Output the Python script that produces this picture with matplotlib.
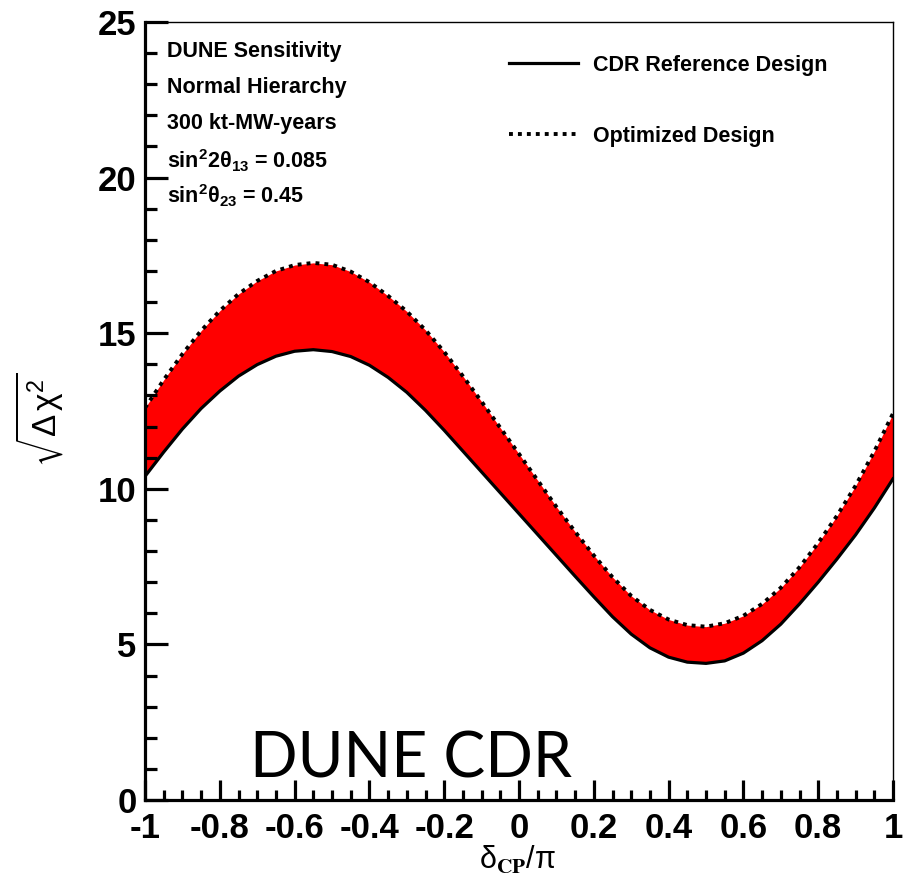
import numpy as np
import matplotlib
matplotlib.use("Agg")
import matplotlib.pyplot as plt
from matplotlib.ticker import MultipleLocator, FuncFormatter
from matplotlib.lines import Line2D

plt.rcParams['font.family'] = ['Liberation Sans', 'DejaVu Sans']
plt.rcParams['mathtext.fontset'] = 'custom'
plt.rcParams['mathtext.rm'] = 'Liberation Sans:bold'
plt.rcParams['mathtext.it'] = 'Liberation Sans:bold'
plt.rcParams['mathtext.bf'] = 'Liberation Sans:bold'
plt.rcParams['mathtext.default'] = 'regular'

# delta_CP / pi
dcp = np.round(np.arange(-1.0, 1.0001, 0.05), 2)

# sqrt(delta chi^2), CDR reference design (solid)
cdr_ref = [10.40, 11.18, 11.92, 12.58, 13.14, 13.62, 13.99, 14.26, 14.42, 14.47,
           14.41, 14.25, 13.97, 13.58, 13.10, 12.52, 11.88, 11.21, 10.54, 9.87,
           9.20, 8.53, 7.86, 7.19, 6.53, 5.89, 5.33, 4.89, 4.59, 4.43,
           4.39, 4.47, 4.72, 5.12, 5.65, 6.30, 7.00, 7.74, 8.52, 9.38,
           10.32]

# optimized design (dotted)
optimized = [12.60, 13.50, 14.33, 15.08, 15.72, 16.26, 16.68, 17.00, 17.19, 17.26,
             17.20, 16.98, 16.64, 16.20, 15.70, 15.10, 14.40, 13.62, 12.80, 11.96,
             11.12, 10.27, 9.42, 8.62, 7.86, 7.16, 6.56, 6.11, 5.80, 5.62,
             5.57, 5.68, 5.92, 6.30, 6.82, 7.48, 8.26, 9.13, 10.10, 11.20,
             12.42]

legend_labels = ['CDR Reference Design', 'Optimized Design']
info_lines = ['DUNE Sensitivity', 'Normal Hierarchy', '300 kt-MW-years',
              r'sin$^{2}$2$\theta_{13}$ = 0.085', r'sin$^{2}\theta_{23}$ = 0.45']

W, H = 916, 881
fig = plt.figure(figsize=(W / 100, H / 100), dpi=100)
ax = fig.add_axes([145 / W, 1 - 800 / H, (893 - 145) / W, (800 - 22) / H])

dotted = (0, (1, 1.3))
ax.fill_between(dcp, cdr_ref, optimized, color='#ff0000', lw=0, zorder=1)
ax.plot(dcp, cdr_ref, color='black', lw=2.3, zorder=3)
ax.plot(dcp, optimized, color='black', lw=2.8, ls=dotted, dash_capstyle='butt', zorder=3)

ax.set_xlim(-1, 1)
ax.set_ylim(0, 25)

# frame: thick left/bottom, thin top/right, ticks pointing inwards
for s in ['left', 'bottom']:
    ax.spines[s].set_linewidth(2.3)
for s in ['top', 'right']:
    ax.spines[s].set_linewidth(1.0)

ax.xaxis.set_major_locator(MultipleLocator(0.2))
ax.xaxis.set_minor_locator(MultipleLocator(0.05))
ax.yaxis.set_major_locator(MultipleLocator(5))
ax.yaxis.set_minor_locator(MultipleLocator(1))
ax.tick_params(axis='both', which='both', direction='in', width=2.3,
               top=False, right=False)
ax.tick_params(axis='x', which='major', length=14.5, pad=9)
ax.tick_params(axis='x', which='minor', length=7.2)
ax.tick_params(axis='y', which='major', length=16.5, pad=6)
ax.tick_params(axis='y', which='minor', length=8.6)
ax.xaxis.set_major_formatter(FuncFormatter(lambda v, p: '%g' % round(v, 1)))
for lab in ax.get_xticklabels() + ax.get_yticklabels():
    lab.set_fontsize(25)
    lab.set_fontweight('bold')

# axis titles
fig.text(517 / W, 1 - 868 / H, r'$\delta_{\mathbf{CP}}/\pi$', fontsize=22,
         ha='center', va='baseline', math_fontfamily='stix')
fig.text(40 / W, 1 - 420 / H, r'$\sqrt{\Delta\,\chi^{2}}$', fontsize=24,
         ha='center', va='center', rotation=90, math_fontfamily='stixsans')

# info block, top left
baselines = [56.7, 93.0, 129.5, 168.0, 203.0]
for txt, yb in zip(info_lines, baselines):
    fig.text(167 / W, 1 - yb / H, txt, fontsize=15.5, fontweight='bold',
             ha='left', va='baseline')

# legend
handles = [Line2D([], [], color='black', lw=2.3),
           Line2D([], [], color='black', lw=2.8, ls=dotted, dash_capstyle='butt')]
leg = ax.legend(handles, legend_labels, loc='upper left',
                bbox_to_anchor=(509 / W, 1 - 55 / H), bbox_transform=fig.transFigure,
                frameon=False, borderpad=0, borderaxespad=0, handlelength=3.2,
                handletextpad=0.7, labelspacing=2.3,
                prop={'family': 'Liberation Sans', 'weight': 'bold', 'size': 15.5})

# watermark
ax.text(250 / W, 1 - 777 / H, 'DUNE CDR', transform=fig.transFigure, fontsize=45,
        family='Lato', ha='left', va='baseline', zorder=4)

fig.savefig('out.png', dpi=100)
